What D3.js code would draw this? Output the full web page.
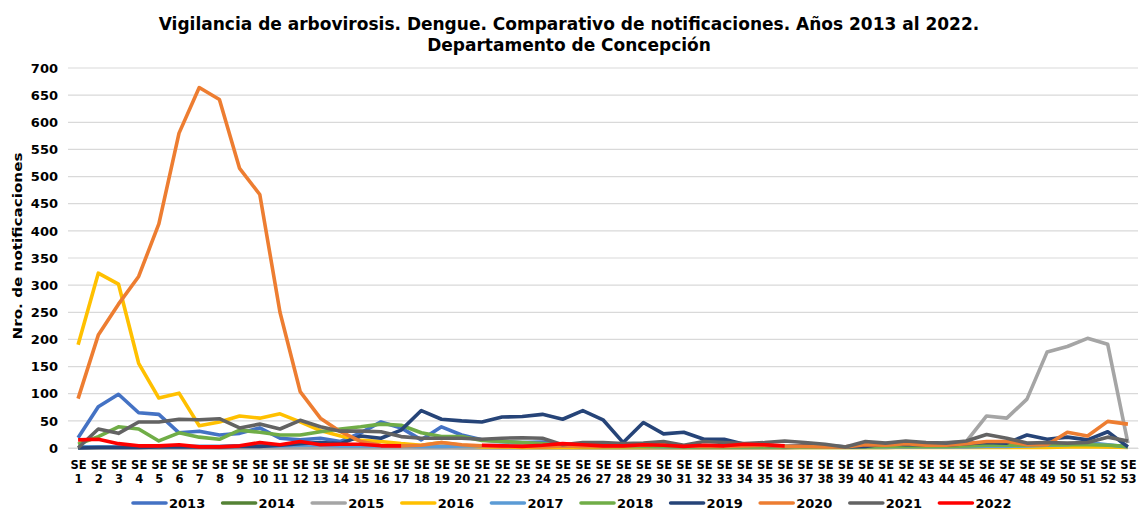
<!DOCTYPE html>
<html>
<head>
<meta charset="utf-8">
<script src="https://cdn.jsdelivr.net/npm/d3@7"></script>
<style>
  body { margin: 0; background: #fff; }
  svg { display: block; font-family: "DejaVu Sans", Verdana, sans-serif; }
</style>
</head>
<body>
<svg id="chart" width="1140" height="509"></svg>
<script>
// semanas epidemiologicas
var weeks = d3.range(1, 54).map(d => "SE " + d);
var years = ["2013", "2014", "2015", "2016", "2017", "2018", "2019", "2020", "2021", "2022"];
var colors = ["#4472C4", "#548235", "#A5A5A5", "#FFC000", "#5B9BD5", "#70AD47", "#264478", "#ED7D31", "#636363", "#FF0000"];
var yTicks = d3.range(0, 701, 50);

// notificaciones por semana
var s2013 = [19, 76, 99, 65, 62, 28, 31, 24, 27, 37, 18, 15, 18, 12, 28, 48, 37, 15, 39, 24, 15, 12, 10, 11, 6, 5, 4, 4, 3, 3, 2, 3, 3, 2, 2, 2, 2, 2, 2, 2, 3, 3, 3, 2, 3, 4, 5, 4, 3, 4, 6, 5, 2];
var s2014 = [1, 1, 2, 2, 1, 2, 2, 1, 2, 2, 3, 2, 3, 2, 2, 3, 2, 2, 2, 1, 1, 1, 1, 1, 1, 1, 1, 1, 1, 1, 1, 1, 1, 1, 1, 1, 1, 1, 1, 1, 1, 2, 2, 2, 3, 3, 3, 3, 4, 4, 4, 3, 2];
var s2015 = [0, 0, 0, 0, 0, 0, 0, 0, 0, 0, 0, 0, 0, 0, 0, 0, 0, 0, 0, 0, 0, 0, 0, 0, 0, 0, 0, 0, 0, 0, 0, 0, 0, 0, 0, 0, 2, 3, 2, 5, 6, 8, 8, 10, 12, 59, 55, 90, 177, 187, 202, 191, 9];
var s2016 = [190, 322, 302, 156, 92, 101, 41, 48, 59, 55, 63, 48, 32, 22, 14, 12, 8, 5, 10, 5, 2, 2, 1, 1, 1, 1, 1, 1, 1, 1, 1, 1, 1, 1, 1, 1, 1, 1, 1, 1, 1, 1, 1, 1, 1, 1, 1, 1, 1, 2, 2, 2, 1];
var s2017 = [2, 2, 2, 3, 3, 3, 3, 3, 4, 4, 4, 5, 5, 4, 4, 4, 4, 3, 3, 4, 4, 5, 6, 7, 5, 4, 3, 3, 3, 2, 2, 2, 2, 2, 2, 2, 2, 2, 2, 2, 2, 2, 2, 2, 2, 3, 3, 4, 5, 6, 10, 6, 2];
var s2018 = [7, 21, 39, 35, 13, 28, 20, 16, 33, 29, 24, 24, 30, 35, 39, 44, 42, 28, 21, 21, 14, 12, 10, 8, 4, 3, 3, 3, 3, 3, 2, 2, 2, 2, 2, 2, 2, 2, 2, 2, 3, 3, 3, 3, 4, 5, 5, 5, 6, 6, 6, 5, 3];
var s2019 = [0, 1, 1, 1, 2, 2, 2, 2, 3, 3, 5, 8, 10, 8, 22, 18, 33, 69, 53, 50, 48, 57, 58, 62, 53, 69, 52, 10, 47, 26, 29, 16, 16, 7, 5, 3, 4, 4, 2, 3, 8, 6, 6, 5, 8, 10, 9, 24, 16, 20, 15, 30, 2];
var s2020 = [91, 208, 265, 316, 413, 580, 664, 642, 515, 467, 250, 104, 55, 30, 12, 5, 4, 5, 10, 6, 4, 3, 3, 2, 4, 3, 3, 4, 5, 8, 4, 3, 3, 4, 5, 3, 3, 2, 2, 6, 5, 8, 5, 5, 8, 12, 12, 6, 6, 29, 22, 49, 44];
var s2021 = [0, 35, 27, 48, 48, 53, 52, 54, 37, 44, 35, 51, 39, 31, 31, 30, 21, 18, 18, 18, 16, 18, 19, 18, 6, 10, 10, 8, 9, 12, 5, 12, 10, 8, 10, 13, 10, 7, 2, 12, 9, 13, 10, 9, 13, 25, 18, 9, 10, 9, 10, 20, 13];
var s2022 = [15, 16, 8, 4, 4, 6, 2, 2, 4, 10, 6, 12, 6, 7, 7, 4, 4, null, null, null, 5, 4, 3, 5, 8, 6, 4, 4, 6, 5, 3, 5, 4, 7, 6, 4,
  null, null, null, null, null, null, null, null, null, null, null, null, null, null, null, null, null];
var series = [s2013, s2014, s2015, s2016, s2017, s2018, s2019, s2020, s2021, s2022];

var svg = d3.select("#chart"),
    margin = { top: 68, right: 2, bottom: 61, left: 68 },
    width = +svg.attr("width") - margin.left - margin.right,
    height = +svg.attr("height") - margin.top - margin.bottom;

var xScale = d3.scalePoint().domain(weeks).range([0, width]).padding(0.5),
    yScale = d3.scaleLinear().domain([0, 700]).range([height, 0]);

var g = svg.append("g")
    .attr("transform", "translate(" + margin.left + "," + margin.top + ")");

// titulo
svg.append("text")
    .attr("x", 569).attr("y", 30)
    .attr("text-anchor", "middle")
    .attr("font-size", "17px").attr("font-weight", "bold")
    .text("Vigilancia de arbovirosis. Dengue. Comparativo de notificaciones. Años 2013 al 2022.");
svg.append("text")
    .attr("x", 569).attr("y", 51)
    .attr("text-anchor", "middle")
    .attr("font-size", "17px").attr("font-weight", "bold")
    .text("Departamento de Concepción");

// lineas de grilla
g.append("g")
    .selectAll("line")
    .data(yTicks)
    .enter().append("line")
    .attr("x1", 0).attr("x2", width)
    .attr("y1", d => yScale(d)).attr("y2", d => yScale(d))
    .attr("stroke", "#D9D9D9").attr("stroke-width", 1.2);

// eje y
var yAxis = g.append("g")
    .call(d3.axisLeft(yScale).tickValues(yTicks).tickSize(0).tickPadding(10));
yAxis.select(".domain").remove();
yAxis.selectAll("text")
    .attr("font-size", "13px").attr("font-weight", "bold").attr("fill", "#000")
    .attr("font-family", "'DejaVu Sans', sans-serif");

svg.append("text")
    .attr("transform", "translate(22," + (margin.top + height / 2 - 12) + ") rotate(-90)")
    .attr("text-anchor", "middle")
    .attr("font-size", "13px").attr("font-weight", "bold")
    .attr("textLength", 187).attr("lengthAdjust", "spacingAndGlyphs")
    .text("Nro. de notificaciones");

// eje x con dos lineas: "SE" y numero
var xAxis = g.append("g")
    .attr("transform", "translate(0," + height + ")")
    .call(d3.axisBottom(xScale).tickSize(0).tickFormat(""));
xAxis.select(".domain").attr("stroke", "#D9D9D9");
xAxis.selectAll(".tick").each(function (d) {
    var parts = d.split(" ");
    var t = d3.select(this).append("text")
        .attr("text-anchor", "middle")
        .attr("font-size", "11.5px").attr("font-weight", "bold").attr("fill", "#000")
        .attr("font-family", "'DejaVu Sans', sans-serif");
    t.append("tspan").attr("x", 0).attr("y", 21).text(parts[0]);
    t.append("tspan").attr("x", 0).attr("y", 35).text(parts[1]);
});

// lineas de cada año
var line = d3.line()
    .defined(d => d != null)
    .x((d, i) => xScale(weeks[i]))
    .y(d => yScale(d));

g.selectAll(".serie")
    .data(series)
    .enter().append("path")
    .attr("class", "serie")
    .attr("fill", "none")
    .attr("stroke", (d, i) => colors[i])
    .attr("stroke-width", 3.6)
    .attr("stroke-linejoin", "round")
    .attr("d", line);

// leyenda
var legend = svg.append("g").attr("transform", "translate(133,503)");
var item = legend.selectAll("g")
    .data(years)
    .enter().append("g")
    .attr("transform", (d, i) => "translate(" + (i * 89.6) + ",0)");
item.append("line")
    .attr("x1", 0).attr("x2", 33)
    .attr("stroke", (d, i) => colors[i]).attr("stroke-width", 3.6)
    .attr("stroke-linecap", "round");
item.append("text")
    .attr("x", 36).attr("y", 4.5)
    .attr("font-size", "13px").attr("font-weight", "bold")
    .text(d => d);
</script>
</body>
</html>
